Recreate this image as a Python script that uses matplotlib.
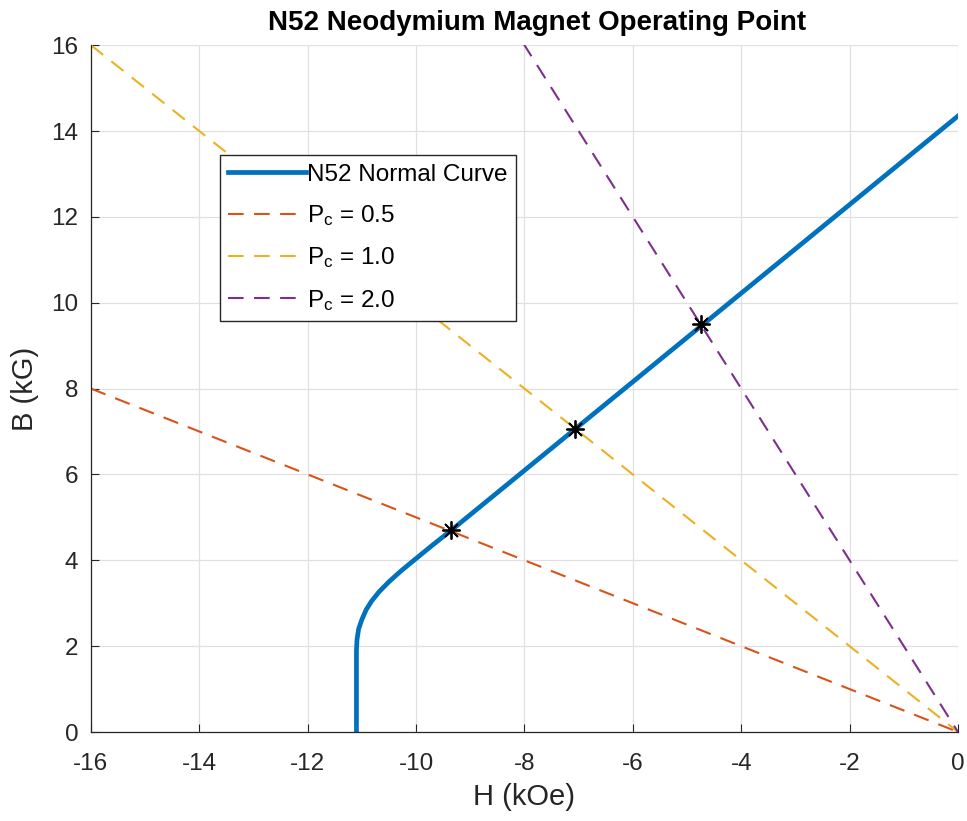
import numpy as np
import matplotlib.pyplot as plt

plt.rcParams['font.family'] = ['Liberation Sans', 'DejaVu Sans']
plt.rcParams['mathtext.fontset'] = 'custom'
plt.rcParams['mathtext.rm'] = 'Liberation Sans'
plt.rcParams['mathtext.it'] = 'Liberation Sans'
plt.rcParams['axes.unicode_minus'] = False

# N52 demagnetization (normal) curve, H in kOe, B in kG
H_curve = [-11.1, -11.1, -11.09, -11.06, -11.0, -10.92, -10.82, -10.68, -10.5,
           -10.28, -10.02, -9.7, -9.35, 0.0]
B_curve = [0.0, 1.9, 2.15, 2.4, 2.62, 2.85, 3.05, 3.27, 3.5,
           3.75, 4.02, 4.35, 4.7, 14.35]

# permeance coefficients for the load lines B = -Pc * H
Pc = [0.5, 1.0, 2.0]
H_load = [-16.0, 0.0]

# operating points (intersection of load line and normal curve)
H_op = [-9.35, -7.07, -4.75]
B_op = [4.7, 7.07, 9.5]

colors = ['#D95319', '#EDB120', '#7E2F8E']
txt = '#262626'

fig = plt.figure(figsize=(9.67, 8.21), dpi=100)
ax = fig.add_axes([0.094, 0.1084, 0.8967, 0.8366])

ax.plot(H_curve, B_curve, color='#0072BD', lw=3.4, label='N52 Normal Curve')
for p, c in zip(Pc, colors):
    ax.plot(H_load, [-p * h for h in H_load], color=c, lw=1.5,
            linestyle=(0, (7.5, 5)), label='P$_{c}$ = %.1f' % p)
ax.plot(H_op, B_op, linestyle='none', marker=(8, 2, 0), color='k',
        markersize=13, markeredgewidth=1.3)

ax.set_xlim(-16, 0)
ax.set_ylim(0, 16)
ax.set_xticks(np.arange(-16, 1, 2))
ax.set_yticks(np.arange(0, 17, 2))
ax.grid(True, color='#E0E0E0', lw=0.9)
ax.set_axisbelow(True)
for s in ['top', 'right']:
    ax.spines[s].set_visible(False)
for s in ['left', 'bottom']:
    ax.spines[s].set_color(txt)
    ax.spines[s].set_linewidth(0.9)
ax.tick_params(direction='in', length=6, colors=txt, labelsize=17.5)
ax.tick_params(axis='x', pad=15)
ax.tick_params(axis='y', pad=9)

ax.set_xlabel('H (kOe)', fontsize=21, color=txt, labelpad=6)
ax.set_ylabel('B (kG)', fontsize=21, color=txt, labelpad=9)
ax.set_title('N52 Neodymium Magnet Operating Point', fontsize=20,
             fontweight='bold', color='k', pad=11, x=0.515)

leg = ax.legend(loc='upper left', bbox_to_anchor=(0.1488, 0.840), fontsize=17.5,
                handlelength=3.2, handletextpad=0.05, labelspacing=0.72,
                fancybox=False, framealpha=1, borderpad=0.35, borderaxespad=0)
leg.get_frame().set_edgecolor('#262626')
leg.get_frame().set_linewidth(1.0)

fig.savefig('out.png', dpi=100)
